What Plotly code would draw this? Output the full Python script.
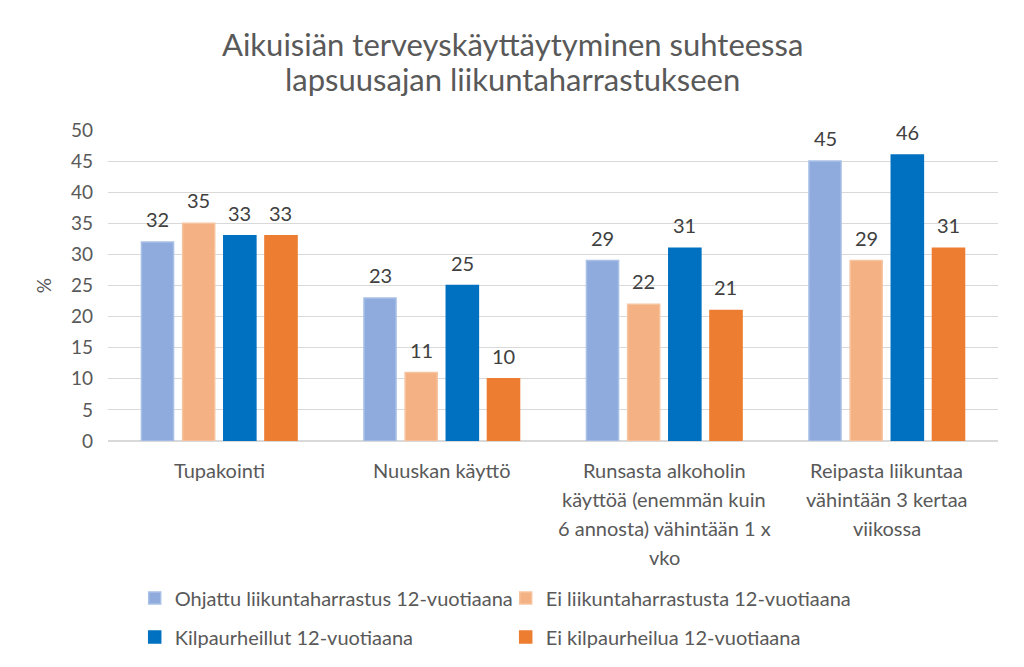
import plotly.graph_objects as go

categories = ["Tupakointi", "Nuuskan käyttö",
              "Runsasta alkoholin<br>käyttöä (enemmän kuin<br>6 annosta) vähintään 1 x<br>vko",
              "Reipasta liikuntaa<br>vähintään 3 kertaa<br>viikossa"]
series_names = ["Ohjattu liikuntaharrastus 12-vuotiaana",
                "Ei liikuntaharrastusta 12-vuotiaana",
                "Kilpaurheillut 12-vuotiaana",
                "Ei kilpaurheilua 12-vuotiaana"]
ohjattu = [32, 23, 29, 45]
ei_harrastus = [35, 11, 22, 29]
kilpa = [33, 25, 31, 46]
ei_kilpa = [33, 10, 21, 31]
y_ticks = [0, 5, 10, 15, 20, 25, 30, 35, 40, 45, 50]
title_lines = ["Aikuisiän terveyskäyttäytyminen suhteessa",
               "lapsuusajan liikuntaharrastukseen"]

values = [ohjattu, ei_harrastus, kilpa, ei_kilpa]
colors = ["#8FAADC", "#F4B183", "#0070C0", "#ED7D31"]
borders = ["#A9C0E6", "#F7C4A0", "#0070C0", "#ED7D31"]
legend_ids = ["legend", "legend", "legend2", "legend2"]

FONT = "Lato"
W, H = 1024, 667
ML, MR, MT, MB = 100, 34, 122, 234
BARGAP, GROUPGAP = 0.26, 0.22
plot_w = W - ML - MR
plot_h = H - MT - MB

fig = go.Figure()
for name, vals, c, b, lg in zip(series_names, values, colors, borders, legend_ids):
    fig.add_trace(go.Bar(
        x=categories, y=vals, name=name, legend=lg,
        marker=dict(color=c, line=dict(color=b, width=1.5)),
    ))

# data labels placed above each bar
cat_px = plot_w / len(categories)
slot_px = cat_px * (1 - BARGAP) / len(values)
annotations = []
for i, vals in enumerate(values):
    xshift = (i - (len(values) - 1) / 2) * slot_px
    for cat, v in zip(categories, vals):
        annotations.append(dict(x=cat, y=v, xref="x", yref="y", text=str(v),
                                showarrow=False, xshift=xshift, yshift=23,
                                xanchor="center", yanchor="middle",
                                font=dict(size=20, color="#404040", family=FONT)))

# category labels (one annotation per line for Excel-like line spacing)
for cat in categories:
    for k, line in enumerate(cat.split("<br>")):
        annotations.append(dict(x=cat, y=0, xref="x", yref="paper", text=line,
                                showarrow=False, yshift=-(29 + 29 * k),
                                xanchor="center", yanchor="middle",
                                font=dict(size=20, color="#595959", family=FONT)))

# title lines
for k, line in enumerate(title_lines):
    annotations.append(dict(text=line, xref="paper", yref="paper",
                            x=(W / 2 - 8 - ML) / plot_w,
                            y=1 + (MT - (44 + 35 * k - 8)) / plot_h,
                            xanchor="center", yanchor="middle", showarrow=False,
                            font=dict(size=31, color="#595959", family=FONT)))

legend_common = dict(orientation="h", x=0.03, xanchor="left", yanchor="middle",
                     yref="container", entrywidth=326, entrywidthmode="pixels",
                     font=dict(size=20, color="#595959", family=FONT), itemwidth=30)

fig.update_layout(
    width=W, height=H,
    paper_bgcolor="white", plot_bgcolor="white",
    font=dict(family=FONT, color="#595959"),
    barmode="group", bargap=BARGAP, bargroupgap=GROUPGAP,
    margin=dict(l=ML, r=MR, t=MT, b=MB, autoexpand=False),
    legend=dict(legend_common, y=1 - 590 / H),
    legend2=dict(legend_common, y=1 - 629 / H),
    xaxis=dict(showticklabels=False, automargin=False,
               showline=True, linecolor="#D9D9D9", linewidth=1, ticks=""),
    yaxis=dict(range=[0, 50], tickvals=y_ticks, showgrid=True, gridcolor="#D9D9D9",
               gridwidth=1, zeroline=True, zerolinecolor="#D9D9D9", automargin=False,
               tickfont=dict(size=19, color="#595959", family=FONT),
               title=dict(text="%", font=dict(size=19, color="#595959", family=FONT), standoff=14),
               ticks="", ticklabelstandoff=14),
    annotations=annotations,
)
fig.write_html("out.html")
